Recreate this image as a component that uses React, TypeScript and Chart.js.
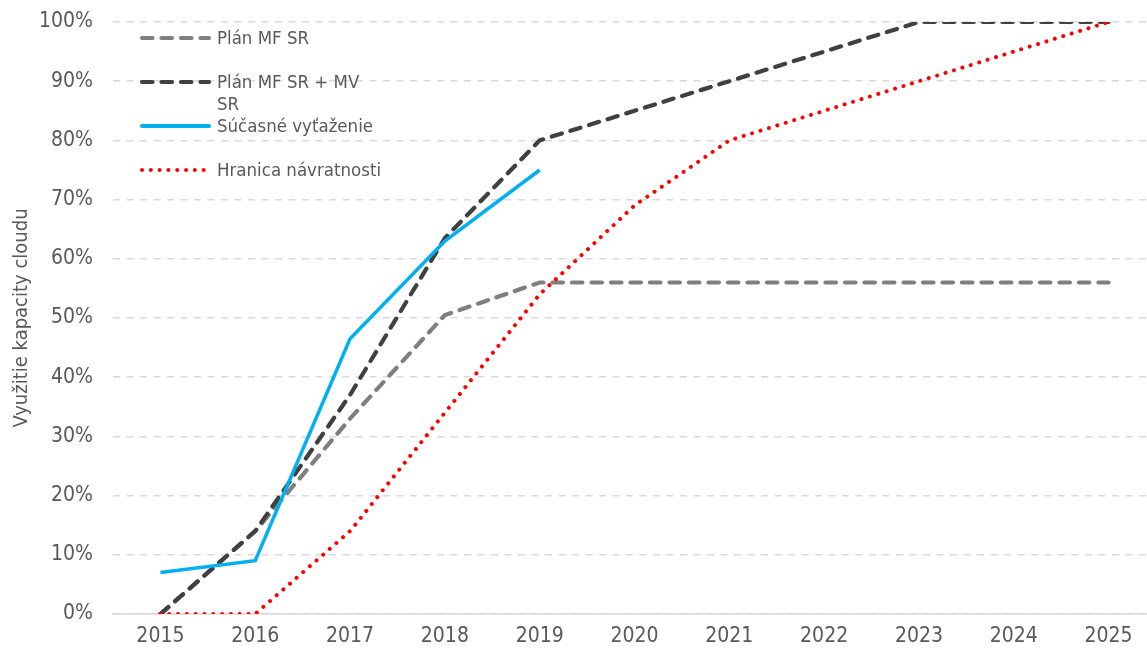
import React, { useEffect, useRef } from "react";
import { Chart, registerables } from "chart.js";

Chart.register(...registerables);

const years = ["2015", "2016", "2017", "2018", "2019", "2020", "2021", "2022", "2023", "2024", "2025"];
const planMF = [0, 14, 33, 50.5, 56, 56, 56, 56, 56, 56, 56];
const planMFMV = [0, 14, 37, 63.5, 80, 85, 90, 95, 100, 100, 100];
const sucasne = [7, 9, 46.5, 63, 75, null, null, null, null, null, null];
const hranica = [0, 0, 14, 34, 54, 69, 80, 85, 90, 95, 100];

const legendLines = [["Plán MF SR"], ["Plán MF SR + MV", "SR"], ["Súčasné vyťaženie"], ["Hranica návratnosti"]];
const legendNames = legendLines.map((l) => l.join(" "));
const axisTitle = "Využitie kapacity cloudu";

const FONT = "'DejaVu Sans Condensed', 'Liberation Sans Narrow', 'Arial Narrow', sans-serif";
const TEXT = "#595959";

export default function App() {
  const ref = useRef<HTMLCanvasElement | null>(null);

  useEffect(() => {
    document.body.style.margin = "0";
    const canvas = ref.current;
    if (!canvas) return;
    const chart = new Chart(canvas, {
      type: "line",
      data: {
        labels: years,
        datasets: [
          {
            label: legendNames[3],
            data: hranica,
            borderColor: "#ff0000",
            borderWidth: 4,
            borderDash: [0.01, 8.8],
            borderCapStyle: "round",
            pointRadius: 0,
            tension: 0,
          },
          {
            label: legendNames[2],
            data: sucasne,
            borderColor: "#00b0f0",
            borderWidth: 3.5,
            pointRadius: 0,
            tension: 0,
            spanGaps: false,
          },
          {
            label: legendNames[1],
            data: planMFMV,
            borderColor: "#404040",
            borderWidth: 4.2,
            borderDash: [10.5, 9],
            borderCapStyle: "round",
            pointRadius: 0,
            tension: 0,
          },
          {
            label: legendNames[0],
            data: planMF,
            borderColor: "#7f7f7f",
            borderWidth: 4.2,
            borderDash: [10.5, 9],
            borderCapStyle: "round",
            pointRadius: 0,
            tension: 0,
          },
        ],
      },
      options: {
        animation: false,
        responsive: false,
        devicePixelRatio: 1,
        layout: { padding: { top: 22, right: 0, bottom: 0, left: 0 } },
        plugins: { legend: { display: false }, tooltip: { enabled: false } },
        scales: {
          x: {
            offset: true,
            grid: { display: false, drawTicks: false },
            border: { display: true, color: "#d9d9d9", width: 1.5 },
            ticks: { color: TEXT, font: { family: FONT, size: 21 }, padding: 10, maxRotation: 0 },
            afterFit: (s: any) => {
              s.height = 40;
              s.paddingLeft = 0;
              s.paddingRight = 0;
            },
          },
          y: {
            min: 0,
            max: 100,
            grid: { color: "#d9d9d9", lineWidth: 1.5, drawTicks: false },
            border: { display: false, dash: [7, 6.5] },
            ticks: {
              stepSize: 10,
              color: TEXT,
              padding: 20,
              font: { family: FONT, size: 21 },
              callback: (v: any) => `${v}%`,
            },
            title: {
              display: true,
              text: axisTitle,
              color: TEXT,
              font: { family: FONT, size: 20 },
              padding: { top: 10, bottom: 0 },
            },
            afterFit: (s: any) => {
              s.width = 113;
              s.paddingTop = 0;
              s.paddingBottom = 0;
            },
          },
        },
      },
    });
    return () => chart.destroy();
  }, []);

  const legendItems = [
    { lines: legendLines[0], y: 38, color: "#7f7f7f", width: 4.2, dash: "10.5 9" },
    { lines: legendLines[1], y: 82, color: "#404040", width: 4.2, dash: "10.5 9" },
    { lines: legendLines[2], y: 126, color: "#00b0f0", width: 4, dash: "" },
    { lines: legendLines[3], y: 170, color: "#ff0000", width: 4, dash: "0.01 8.8" },
  ];

  return (
    <div style={{ position: "relative", width: 1147, height: 654, overflow: "hidden" }}>
      <canvas ref={ref} width={1156} height={654} style={{ display: "block" }} />
      {legendItems.map((it) => (
        <div key={it.lines.join(" ")} style={{ position: "absolute", left: 138, top: it.y - 11 }}>
          <svg width={76} height={22} style={{ position: "absolute", left: 0, top: 0 }}>
            <line
              x1={4}
              y1={11}
              x2={71}
              y2={11}
              stroke={it.color}
              strokeWidth={it.width}
              strokeDasharray={it.dash || undefined}
              strokeLinecap="round"
            />
          </svg>
          <div
            style={{
              position: "absolute",
              left: 79,
              top: 0,
              whiteSpace: "nowrap",
              fontFamily: FONT,
              fontSize: 18.5,
              lineHeight: "22px",
              color: TEXT,
            }}
          >
            {it.lines.map((l, i) => (
              <div key={i}>{l}</div>
            ))}
          </div>
        </div>
      ))}
    </div>
  );
}
